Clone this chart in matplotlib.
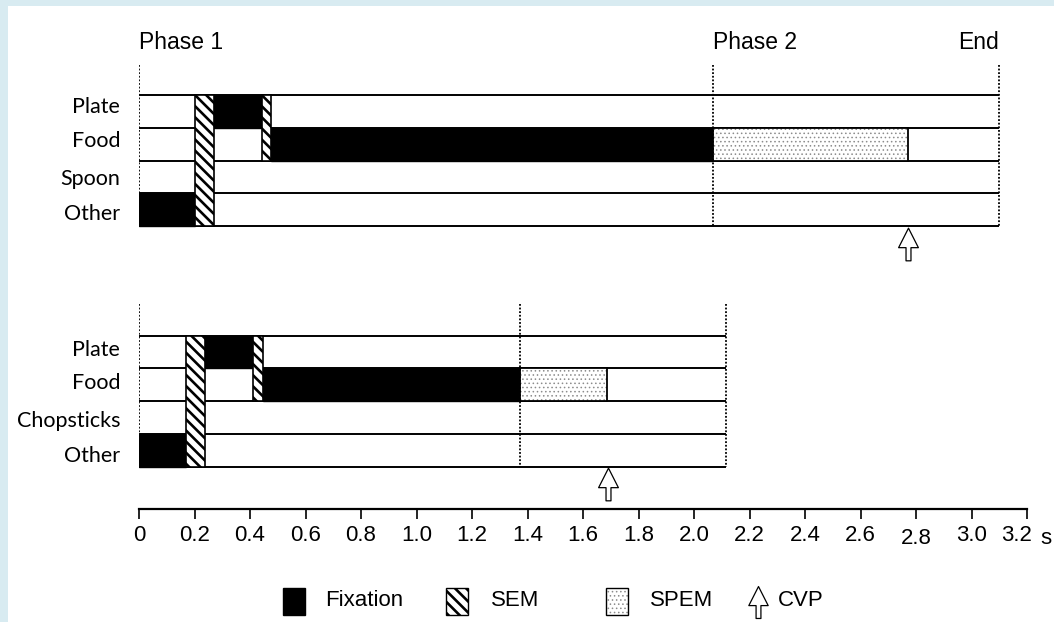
import matplotlib
matplotlib.use("Agg")
import matplotlib.pyplot as plt
import matplotlib.transforms as mtransforms
from matplotlib.patches import Rectangle
from matplotlib.path import Path

# ---- data, times in seconds ----
top_rows = ["Plate", "Food", "Spoon", "Other"]
top_fix = [("Other", 0.0, 0.203), ("Plate", 0.270, 0.442), ("Food", 0.475, 2.070)]
top_sem = [("Other", "Plate", 0.203, 0.270), ("Plate", "Food", 0.442, 0.475)]
top_spem = [("Food", 2.070, 2.770)]
top_phase2, top_end, top_cvp = 2.070, 3.10, 2.770

bot_rows = ["Plate", "Food", "Chopsticks", "Other"]
bot_fix = [("Other", 0.0, 0.168), ("Plate", 0.237, 0.410), ("Food", 0.446, 1.374)]
bot_sem = [("Other", "Plate", 0.168, 0.237), ("Plate", "Food", 0.410, 0.446)]
bot_spem = [("Food", 1.374, 1.687)]
bot_phase2, bot_end, bot_cvp = 1.374, 2.114, 1.689

ticks = [0, 0.2, 0.4, 0.6, 0.8, 1.0, 1.2, 1.4, 1.6, 1.8, 2.0, 2.2, 2.4, 2.6, 2.8, 3.0, 3.2]
tick_labels = ["0", "0.2", "0.4", "0.6", "0.8", "1.0", "1.2", "1.4", "1.6", "1.8",
               "2.0", "2.2", "2.4", "2.6", "2.8", "3.0", "3.2"]
legend_labels = ["Fixation", "SEM", "SPEM", "CVP"]

# ---- layout (pixels, figure is 1054x622 at dpi 100) ----
W, H = 1054, 622
ROW_H = 32.75
ARIAL = "Liberation Sans"
ROWFONT = "Lato"
SEM_HATCH = "\\\\\\"
SPEM_HATCH = "...."
SPEM_COL = "#8c8c8c"
plt.rcParams["hatch.linewidth"] = 1.9

# up-arrow marker (tip on top)
arrow = Path([(0, 16.5), (10, -3.2), (2.5, -3.2), (2.5, -16.5), (-2.5, -16.5),
              (-2.5, -3.2), (-10, -3.2), (0, 16.5)], closed=True)

fig = plt.figure(figsize=(W / 100, H / 100), dpi=100, facecolor="#d8ebf1")
fig.add_artist(Rectangle((8 / W, 0), 1 - 8 / W, 1 - 6 / H, transform=fig.transFigure,
                         facecolor="white", edgecolor="none", zorder=-1))

x0, x1, yax = 139, 1027, 509
ax = fig.add_axes([x0 / W, 1 - yax / H, (x1 - x0) / W, yax / H])
ax.set_facecolor("none")
ax.set_xlim(0, 3.2)
ax.set_ylim(yax, 0)
for s in ["top", "left", "right"]:
    ax.spines[s].set_visible(False)
ax.spines["bottom"].set_linewidth(1.6)
ax.set_yticks([])
ax.set_xticks(ticks)
ax.set_xticklabels(tick_labels, fontsize=16, family=ARIAL)
ax.tick_params(axis="x", direction="out", length=7.5, width=1.2, pad=4)
ax.xaxis.get_major_ticks()[14].set_pad(6.5)
# the last label sits a bit left of its tick, to make room for the unit
lbl = ax.get_xticklabels()[-1]
lbl.set_transform(lbl.get_transform() + mtransforms.ScaledTranslation(-0.10, 0, fig.dpi_scale_trans))
ax.text(3.2, 543.5, "s", fontsize=16, family=ARIAL, ha="left", va="baseline",
        transform=mtransforms.offset_copy(ax.transData, fig=fig, x=13, y=0, units="dots"))

lab_tr = mtransforms.offset_copy(ax.transData, fig=fig, x=-19, y=0, units="dots")


def draw_panel(rows, fix, sem, spem, phase2, end, cvp, top, dot_top, label_base):
    ypos = {r: top + i * ROW_H for i, r in enumerate(rows)}
    bottom = top + len(rows) * ROW_H
    ax.hlines([top + i * ROW_H for i in range(len(rows) + 1)], 0, end,
              color="black", lw=1.4, zorder=2)
    ax.vlines([0, phase2, end], dot_top, bottom, colors="black",
              linestyles=(0, (1, 1)), lw=1.3, zorder=4)
    for r, t0, t1 in fix:
        ax.bar(t0, ROW_H, width=t1 - t0, bottom=ypos[r], align="edge",
               color="black", edgecolor="black", lw=1, zorder=3)
    for r0, r1, t0, t1 in sem:
        ya = min(ypos[r0], ypos[r1])
        yb = max(ypos[r0], ypos[r1]) + ROW_H
        ax.bar(t0, yb - ya, width=t1 - t0, bottom=ya, align="edge", facecolor="white",
               edgecolor="black", hatch=SEM_HATCH, lw=1.2, zorder=3)
    for r, t0, t1 in spem:
        with plt.rc_context({"hatch.linewidth": 0.6}):
            ax.bar(t0, ROW_H, width=t1 - t0, bottom=ypos[r], align="edge", facecolor="white",
                   edgecolor=SPEM_COL, hatch=SPEM_HATCH, lw=0, zorder=3)
        ax.bar(t0, ROW_H, width=t1 - t0, bottom=ypos[r], align="edge", fill=False,
               edgecolor="black", lw=1.3, zorder=3)
    ax.plot([cvp], [bottom + 17.5], marker=arrow, ms=23.5, mfc="white", mec="black",
            mew=0.9, ls="none", zorder=5, clip_on=False)
    for r, b in zip(rows, label_base):
        ax.text(0, b, r, ha="right", va="baseline", fontsize=15.5, family=ROWFONT,
                transform=lab_tr)


draw_panel(top_rows, top_fix, top_sem, top_spem, top_phase2, top_end, top_cvp,
           95, 65, [113, 147, 184.5, 220])
draw_panel(bot_rows, bot_fix, bot_sem, bot_spem, bot_phase2, bot_end, bot_cvp,
           335.7, 304, [355.5, 389, 426.5, 462])

ax.text(0, 49, "Phase 1", ha="left", va="baseline", fontsize=16.5, family=ARIAL)
ax.text(top_phase2, 49, "Phase 2", ha="left", va="baseline", fontsize=16.5, family=ARIAL)
ax.text(top_end, 49, "End", ha="right", va="baseline", fontsize=16.5, family=ARIAL)

# ---- legend, placed in pixel coordinates ----
lax = fig.add_axes([0, 0, 1, 1], zorder=1)
lax.set_xlim(0, W)
lax.set_ylim(H, 0)
lax.axis("off")
ly = 601
lax.add_patch(Rectangle((283, 588), 22, 27, facecolor="black", edgecolor="black"))
lax.add_patch(Rectangle((446, 588), 22, 27, facecolor="white", edgecolor="black",
                        hatch=SEM_HATCH, lw=1))
with plt.rc_context({"hatch.linewidth": 0.6}):
    lax.add_patch(Rectangle((606, 588), 22, 27, facecolor="white", edgecolor=SPEM_COL,
                            hatch=SPEM_HATCH, lw=0))
lax.add_patch(Rectangle((606, 588), 22, 27, fill=False, edgecolor="black", lw=1))
lax.plot([758], [ly + 1], marker=arrow, ms=23, mfc="white", mec="black", mew=0.9, ls="none")
for lx, txt in zip([325, 491, 650, 778], legend_labels):
    lax.text(lx, ly, txt, ha="left", va="center", fontsize=16, family=ARIAL)

fig.savefig("out.png", dpi=100, facecolor=fig.get_facecolor())
